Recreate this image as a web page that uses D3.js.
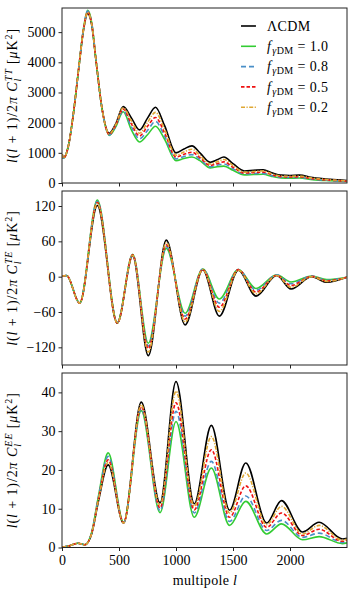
<!DOCTYPE html>
<html><head><meta charset="utf-8">
<script src="https://cdn.jsdelivr.net/npm/d3@7"></script>
<style>
body{margin:0;background:#fff}
svg{display:block}
text{font-family:"Liberation Serif","DejaVu Serif",serif;fill:#000}
</style>
</head><body>
<svg id="c" width="360" height="591"></svg>
<script>
// ---------- DATA ----------
const seriesLabels = ["ΛCDM", "1.0", "0.8", "0.5", "0.2"]; // legend (f_γDM values)
const xTicks = [0, 500, 1000, 1500, 2000];
const ttTicks = [0, 1000, 2000, 3000, 4000, 5000];
const teTicks = [-120, -60, 0, 60, 120];
const eeTicks = [0, 10, 20, 30, 40];

// TT  (multipole l, then D_l in μK² for each model)
const ttEll = [2,10,30,60,100,150,190,225,260,300,350,415,470,537,610,680,750,820,900,1000,1070,1140,1210,1300,1360,1420,1500,1600,1680,1765,1840,1920,2000,2080,2200,2350,2500];
const ttLCDM = [950,820,900,1300,2300,3900,5100,5620,5250,4000,2500,1650,1950,2530,2150,1760,2150,2510,1900,1000,1130,1230,1000,690,770,860,640,400,420,440,340,260,250,260,180,120,80];
const ttF10  = [950,820,900,1300,2300,3920,5150,5720,5330,4020,2480,1580,1850,2360,1750,1360,1600,1880,1450,740,810,860,740,500,540,560,420,270,280,290,220,170,160,165,110,75,50];
const ttF08  = [950,820,900,1300,2300,3915,5140,5700,5310,4015,2485,1595,1875,2400,1850,1460,1740,2040,1550,800,880,940,790,540,590,630,470,300,310,320,245,190,180,185,125,85,56];
const ttF05  = [950,820,900,1300,2300,3910,5125,5670,5290,4010,2490,1610,1900,2450,1950,1560,1880,2170,1660,860,950,1020,840,580,640,700,520,330,345,360,275,210,200,205,140,95,62];
const ttF02  = [950,820,900,1300,2300,3905,5115,5650,5270,4005,2495,1630,1925,2490,2050,1650,2010,2340,1780,920,1030,1120,910,630,700,780,580,360,380,400,305,235,225,230,160,105,70];

// TE
const teEll = [2,40,155,310,485,620,757,915,1080,1235,1380,1547,1702,1883,2009,2190,2322,2500];
const teLCDM = [1,2,-45,121,-79,35,-134,62,-82,12,-67,11,-33,2,-21,0,-9.5,-1];
const teF10  = [1,2,-45,130,-78,38,-113,48,-62,13,-38,12,-20,3,-9,1,-5,-1];
const teF08  = [1,2,-45,128,-78,37,-118,51,-67,13,-45,12,-23,3,-12,1,-6,-1];
const teF05  = [1,2,-45,126,-79,37,-122,54,-72,12,-52,12,-26,2,-15,0.5,-7,-1];
const teF02  = [1,2,-45,124,-79,36,-128,58,-77,12,-59,11,-29,2,-18,0,-8,-1];

// EE
const eeEll = [2,60,140,200,260,320,405,540,695,860,1000,1160,1310,1470,1612,1795,1925,2110,2255,2460,2500];
const eeLCDM = [0.05,0.4,1.1,0.7,3.5,12,21.3,6.3,37.5,11.5,42.8,11.3,31.5,9.6,21.8,6.3,12.1,4.0,6.5,2.2,2.4];
const eeF10  = [0.05,0.4,1.1,0.7,3.9,13.3,24.4,6.5,35.3,9.0,32.5,7.8,20.5,5.7,11.9,3.5,6.1,2.0,2.8,1.0,1.2];
const eeF08  = [0.05,0.4,1.1,0.7,3.8,13.0,23.5,6.4,35.8,9.5,35.1,8.9,22.2,6.7,13.3,4.4,7.0,2.6,3.7,1.3,1.5];
const eeF05  = [0.05,0.4,1.1,0.7,3.7,12.6,22.6,6.4,36.3,10.2,37.3,9.7,25.2,7.8,15.9,5.2,8.9,3.1,4.7,1.6,1.8];
const eeF02  = [0.05,0.4,1.1,0.7,3.6,12.3,22.0,6.3,36.8,10.9,40.3,10.6,28.6,8.9,19.2,5.9,10.6,3.5,5.7,1.9,2.1];

// ---------- STYLE ----------
const styles = [
  {color:"#000000", dash:null},
  {color:"#33cc33", dash:null},
  {color:"#4a8fc8", dash:"5,3"},
  {color:"#ee1111", dash:"3.5,2"},
  {color:"#dfa733", dash:"4,1.5,1.2,1.5"}
];
const FS = "14px", FSS = "10px";

const svg = d3.select("#c");
const L = 62, R = 347;
const x = d3.scaleLinear().domain([0, 2500]).range([L, R]);

const panels = [
  {top:8,   bottom:183,   domain:[0,5800],       ticks:ttTicks, ell:ttEll, data:[ttLCDM,ttF10,ttF08,ttF05,ttF02], sup:"TT"},
  {top:191, bottom:365,   domain:[-150,145.5],   ticks:teTicks, ell:teEll, data:[teLCDM,teF10,teF08,teF05,teF02], sup:"TE"},
  {top:373, bottom:547.5, domain:[0,45],         ticks:eeTicks, ell:eeEll, data:[eeLCDM,eeF10,eeF08,eeF05,eeF02], sup:"EE"}
];

const fmt = v => (v < 0 ? "\u2212" + Math.abs(v) : String(v));

panels.forEach((p, pi) => {
  const y = d3.scaleLinear().domain(p.domain).range([p.bottom, p.top]);
  const g = svg.append("g");
  const cid = "clip" + pi;
  svg.append("clipPath").attr("id", cid).append("rect")
    .attr("x", L).attr("y", p.top).attr("width", R - L).attr("height", p.bottom - p.top);

  const line = d3.line().x(d => x(d[0])).y(d => y(d[1])).curve(d3.curveMonotoneX);
  const lg = g.append("g").attr("clip-path", `url(#${cid})`);
  p.data.forEach((vals, si) => {
    const pts = p.ell.map((l, i) => [l, vals[i]]);
    lg.append("path").attr("d", line(pts))
      .attr("fill", "none").attr("stroke", styles[si].color)
      .attr("stroke-width", 1.6)
      .attr("stroke-dasharray", styles[si].dash);
  });

  // frame
  g.append("rect").attr("x", L).attr("y", p.top).attr("width", R - L).attr("height", p.bottom - p.top)
    .attr("fill", "none").attr("stroke", "#222").attr("stroke-width", 1);

  // y axis
  const ya = d3.axisLeft(y).tickValues(p.ticks).tickSize(3.5).tickPadding(3).tickFormat(fmt);
  const yg = g.append("g").attr("transform", `translate(${L},0)`).call(ya);
  yg.select(".domain").remove();
  yg.selectAll("line").attr("stroke", "#222");
  yg.selectAll("text").style("font-size", FS).attr("fill", "#000");

  // x axis ticks
  const xa = d3.axisBottom(x).tickValues(xTicks).tickSize(3.5).tickPadding(4).tickFormat(d3.format("d"));
  const xg = g.append("g").attr("transform", `translate(0,${p.bottom})`).call(xa);
  xg.select(".domain").remove();
  xg.selectAll("line").attr("stroke", "#222");
  xg.selectAll("text").style("font-size", FS).attr("fill", "#000");
  if (pi < 2) xg.selectAll("text").remove();

  // y label
  const cy = (p.top + p.bottom) / 2;
  const t = svg.append("text").attr("transform", `translate(17,${cy}) rotate(-90)`)
    .attr("text-anchor", "middle").style("font-size", FS).style("letter-spacing", "0.9px");
  t.append("tspan").attr("font-style", "italic").text("l");
  t.append("tspan").text("(");
  t.append("tspan").attr("font-style", "italic").text("l");
  t.append("tspan").text(" + 1)/2");
  t.append("tspan").attr("font-style", "italic").text("π");
  t.append("tspan").text(" ");
  t.append("tspan").attr("font-style", "italic").text("C");
  t.append("tspan").attr("font-style", "italic").style("font-size", FSS).attr("dy", 3.5).text("l");
  t.append("tspan").attr("font-style", "italic").style("font-size", FSS).attr("dx", -3.5).attr("dy", -9).text(p.sup);
  t.append("tspan").attr("dy", 5.5).text("  [");
  t.append("tspan").attr("font-style", "italic").text("μ");
  t.append("tspan").text("K");
  t.append("tspan").style("font-size", FSS).attr("dy", -5.5).text("2");
  t.append("tspan").attr("dy", 5.5).text("]");
});

// x label
const xl = svg.append("text").attr("x", 205).attr("y", 585).attr("text-anchor", "middle").style("font-size", FS).style("letter-spacing", "0.3px");
xl.append("tspan").text("multipole ");
xl.append("tspan").attr("font-style", "italic").text("l");

// legend
const lgd = svg.append("g");
seriesLabels.forEach((lab, i) => {
  const yy = 26 + i * 20.3;
  lgd.append("line").attr("x1", 241).attr("x2", 256).attr("y1", yy).attr("y2", yy)
    .attr("stroke", styles[i].color).attr("stroke-width", 1.6)
    .attr("stroke-dasharray", styles[i].dash);
  const tx = lgd.append("text").attr("x", 267).attr("y", yy + 4.8).style("font-size", FS).style("letter-spacing", "0.4px");
  if (i === 0) {
    tx.text(lab);
  } else {
    tx.append("tspan").attr("font-style", "italic").text("f");
    tx.append("tspan").attr("font-style", "italic").style("font-size", FSS).attr("dy", 3).attr("dx", 1).text("γ");
    tx.append("tspan").style("font-size", FSS).text("DM");
    tx.append("tspan").attr("dy", -3).text(" = " + lab);
  }
});
</script>
</body></html>
